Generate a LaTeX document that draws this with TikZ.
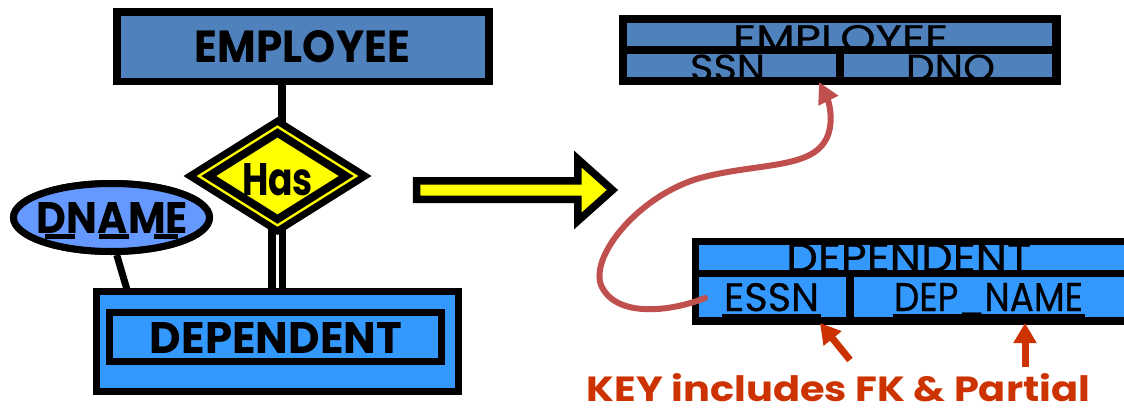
\documentclass[tikz,border=0pt]{standalone}
\usepackage{fontspec}
\setmainfont{Poppins}
\newfontfamily\medfont{Poppins}[FakeBold=0.6]
\usepackage{graphicx}
\usetikzlibrary{shapes.geometric,arrows.meta,calc}
\definecolor{empblue}{RGB}{79,129,189}
\definecolor{depblue}{RGB}{51,153,255}
\definecolor{attblue}{RGB}{102,153,255}
\definecolor{fkred}{RGB}{192,80,77}
\definecolor{keyorange}{RGB}{204,51,0}
\definecolor{hasyellow}{RGB}{255,255,0}
\tikzset{
  erbox/.style={rectangle, draw=black, line width=7.5pt, inner sep=0pt},
  lbl/.style={inner sep=0pt, anchor=base, font=\bfseries},
  tlbl/.style={inner sep=0pt, anchor=base, font=\medfont},
  conn/.style={draw=black, line width=7.5pt},
  tablebg/.style={rectangle, fill=black, inner sep=0pt},
  keyarrow/.style={draw=keyorange, line width=7pt, -{Triangle[length=20pt,width=22pt]}},
  fkarrow/.style={draw=fkred, line width=6pt, -{Triangle[length=21pt,width=21pt]}},
}
\newcommand{\fitbox}[3]{\resizebox{#1pt}{#2pt}{#3}}
\begin{document}
\begin{tikzpicture}[x=1pt,y=-1pt]
\useasboundingbox (0,0) rectangle (1124,410);
\clip (0,0) rectangle (1124,410);

% ---------- left ER diagram: coordinates for connectors ----------
\coordinate (hasC) at (277.5,176);
\coordinate (hasTop) at (282,122);
\coordinate (hasBot) at (277,228);
\coordinate (dnameFoot) at (128,293);

% nodes (boxes)
\node[erbox, fill=empblue, minimum width=372pt, minimum height=69.5pt] (empL) at (303,46.75) {};
\node[erbox, fill=depblue, minimum width=362pt, minimum height=100pt] (depO) at (277.5,341.5) {};
\node[erbox, fill=depblue, minimum width=332pt, minimum height=48.75pt] (depI) at (275.5,337.1) {};
\node[ellipse, draw=black, line width=7pt, fill=attblue, minimum width=196pt, minimum height=68pt, inner sep=0pt] (dname) at (111.5,217.5) {};

% connectors
\draw[conn] (empL.south -| hasTop) -- (hasTop);
\draw[conn, double=white, double distance=3pt, line width=7.5pt] (hasBot) -- (depO.north -| hasBot);
\draw[draw=black, line width=7pt] (dname.-82) -- (dnameFoot);

% redraw boxes over connector ends
\node[erbox, fill=empblue, minimum width=372pt, minimum height=69.5pt] (empL2) at (empL) {};
\node[erbox, fill=depblue, minimum width=362pt, minimum height=100pt] (depO2) at (depO) {};
\node[erbox, fill=depblue, minimum width=332pt, minimum height=48.75pt] (depI2) at (depI) {};
\node[ellipse, draw=black, line width=7pt, fill=attblue, minimum width=196pt, minimum height=68pt, inner sep=0pt] (dname2) at (dname) {};

% diamond "Has" (weak relationship: double border)
\fill[black] (183.5,176) -- (277.5,117) -- (371.5,176) -- (277.5,235) -- cycle;
\fill[hasyellow] (196.7,176) -- (277.5,125.3) -- (358.3,176) -- (277.5,226.7) -- cycle;
\fill[black] (201.4,176) -- (277.5,128.2) -- (353.6,176) -- (277.5,223.8) -- cycle;
\fill[hasyellow] (216.4,176) -- (277.5,137.7) -- (338.6,176) -- (277.5,214.3) -- cycle;

% left labels
\node[lbl] (empLtxt) at (302.5,62) {\fitbox{215}{32}{EMPLOYEE}};
\node[lbl] (hastxt) at (277.5,195) {\fitbox{71}{32}{Has}};
\node[lbl] (dnametxt) at (112.5,233) {\fitbox{151}{31}{DNAME}};
\node[lbl] (deptxt) at (276,353) {\fitbox{252}{31}{DEPENDENT}};
% dashed (partial key) underline of DNAME
\fill[black] (45,233.5) rectangle (75,238.5);
\fill[black] (99,233.5) rectangle (129,238.5);
\fill[black] (154,233.5) rectangle (178,238.5);

% ---------- big yellow mapping arrow ----------
\draw[draw=black, fill=hasyellow, line width=7.5pt, line join=miter]
  (416.5,180.75) -- (577.8,180.75) -- (577.8,159) -- (612.5,190)
  -- (577.8,221) -- (577.8,199.25) -- (416.5,199.25) -- cycle;

% ---------- right: relation EMPLOYEE ----------
\node[tablebg, minimum width=442pt, minimum height=69.5pt] (empR) at (839.5,49.75) {};
\fill[empblue] (627,23) rectangle (1052,46);
\fill[empblue] (627,54) rectangle (836,77);
\fill[empblue] (844,54) rectangle (1052,77);
\begin{scope}
  \clip (627,23) rectangle (1052,46);
  \node[tlbl] (empRtxt) at (840.5,51) {\fitbox{215}{26}{EMPLOYEE}};
\end{scope}
\begin{scope}
  \clip (627,54) rectangle (836,77);
  \node[tlbl] (ssn) at (727.5,80.5) {\fitbox{75}{26}{SSN}};
\end{scope}
\begin{scope}
  \clip (844,54) rectangle (1052,77);
  \node[tlbl] (dno) at (950.5,80.5) {\fitbox{89}{26}{DNO}};
\end{scope}

% ---------- right: relation DEPENDENT ----------
\node[tablebg, minimum width=478pt, minimum height=87pt] (depR) at (931,281.5) {};
\fill[depblue] (699,245) rectangle (1170,270);
\fill[depblue] (699,277) rectangle (845.5,317);
\fill[depblue] (853.5,277) rectangle (1170,317);
\begin{scope}
  \clip (699,245) rectangle (1170,270);
  \node[tlbl] (depRtxt) at (908.75,271.5) {\fitbox{245}{28}{DEPENDENT}};
\end{scope}
\node[tlbl] (essn) at (771.5,311) {\fitbox{95}{28}{ESSN}};
\node[tlbl] (depname) at (988.5,311) {\fitbox{189}{28}{DEP\_NAME}};
\fill[black] (722,314) rectangle (821,317);
\fill[black] (893,314) rectangle (1085,317);

% ---------- foreign key curve ----------
\coordinate (fkS) at (705,298);
\coordinate (fkE) at (819,82);
\draw[fkarrow, line cap=round] (fkS)
  .. controls (670,312) and (615,318) .. (601,285)
  .. controls (590,255) and (640,195) .. (700,178)
  .. controls (760,162) and (815,170) .. (828,135)
  .. controls (834,118) and (828,100) .. (fkE);

% ---------- key annotation ----------
\node[lbl, text=keyorange] (keytxt) at (838.5,401) {\fitbox{503}{28}{KEY includes FK \& Partial}};
\coordinate (k1) at (850,360);
\coordinate (k1t) at (820,323);
\coordinate (k2) at (1025,367);
\coordinate (k2t) at (1025,323);
\draw[keyarrow] (k1) -- (k1t);
\draw[keyarrow] (k2) -- (k2t);
\end{tikzpicture}
\end{document}
